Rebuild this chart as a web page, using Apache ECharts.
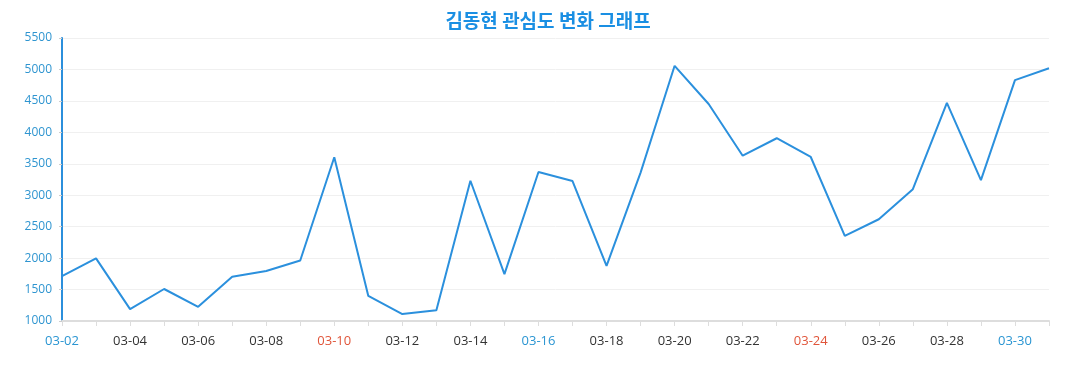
<!DOCTYPE html>
<html><head><meta charset="utf-8">
<script src="https://cdn.jsdelivr.net/npm/echarts@6/dist/echarts.min.js"></script>
<style>html,body{margin:0;padding:0;background:#fff}#c{width:1077px;height:390px}</style>
</head><body><div id="c"></div>
<script>
const categories = ['03-02','03-03','03-04','03-05','03-06','03-07','03-08','03-09','03-10','03-11','03-12','03-13','03-14','03-15','03-16','03-17','03-18','03-19','03-20','03-21','03-22','03-23','03-24','03-25','03-26','03-27','03-28','03-29','03-30','03-31'];
const values = [1715,1995,1188,1509,1225,1705,1795,1962,3603,1398,1111,1172,3230,1745,3370,3226,1876,3360,5058,4450,3628,3906,3608,2355,2618,3096,4468,3240,4830,5018];
const blueLabels = ['03-02','03-16','03-30'];
const redLabels = ['03-10','03-24'];
const yTicks = [1000,1500,2000,2500,3000,3500,4000,4500,5000,5500];

const chart = echarts.init(document.getElementById('c'));
chart.setOption({
  animation:false,
  title:{text:'김동현 관심도 변화 그래프',left:543,textAlign:'center',top:6,
    textStyle:{color:'#1a8fe3',fontSize:19,fontWeight:'bold',fontFamily:'Noto Sans CJK KR'}},
  grid:{left:62,right:28,top:38,bottom:69},
  xAxis:{type:'category',data:categories,boundaryGap:false,
    axisLine:{lineStyle:{color:'#ddd',width:2}},
    axisTick:{interval:0,lineStyle:{color:'#ddd'},length:5},
    axisLabel:{interval:1,margin:14,fontSize:13,fontFamily:'Open Sans',
      color:function(v){return blueLabels.includes(v)?'#2a95d2':(redLabels.includes(v)?'#e0553a':'#333');}}},
  yAxis:{type:'value',min:yTicks[0],max:yTicks[yTicks.length-1],interval:500,
    axisLine:{show:true,lineStyle:{color:'#2b8fdc',width:2}},
    axisTick:{show:true,length:3,lineStyle:{color:'#ccc'}},
    axisLabel:{color:'#2f95d0',fontSize:12,fontFamily:'Open Sans',margin:10,formatter:function(v){return String(v);}},
    splitLine:{lineStyle:{color:'#f0f0f0'}}},
  series:[{type:'line',data:values,showSymbol:false,symbol:'none',
    lineStyle:{color:'#2b90dd',width:2}}]
});
</script></body></html>
